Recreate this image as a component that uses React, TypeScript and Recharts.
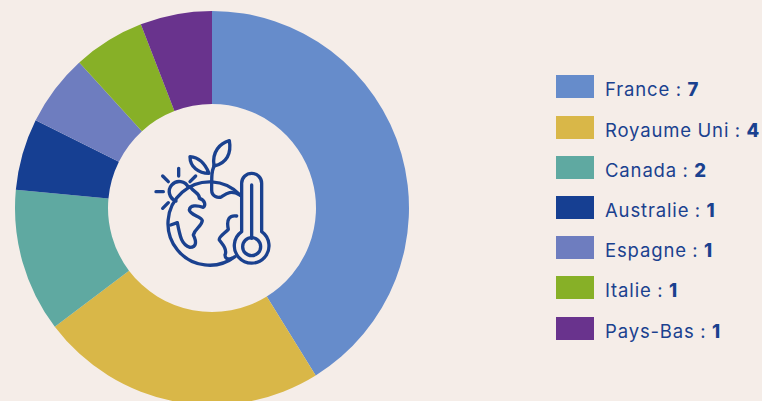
import React from 'react';
import { PieChart, Pie, Cell, Legend } from 'recharts';

const countries = ['France', 'Royaume Uni', 'Canada', 'Australie', 'Espagne', 'Italie', 'Pays-Bas'];
const counts = [7, 4, 2, 1, 1, 1, 1];
const colors = ['#668ccb', '#d9b748', '#5fa9a1', '#163f92', '#6e7dbf', '#87b027', '#69338d'];
const data = countries.map((name, i) => ({ name, value: counts[i] }));

const INK = '#1a418f';
const legendRows = [75, 116, 156, 196, 236, 276, 317];

const LegendBox = () => (
  <div style={{ position: 'relative', width: 762, height: 401 }}>
    {data.map((d, i) => (
      <div key={d.name}>
        <div style={{ position: 'absolute', left: 556, top: legendRows[i], width: 38, height: 23, background: colors[i] }} />
        <div style={{ position: 'absolute', left: 605, top: legendRows[i] + 1, lineHeight: '26px', fontFamily: 'Inter, sans-serif', fontSize: 18.5, letterSpacing: 0.85, wordSpacing: -0.5, color: INK, whiteSpace: 'nowrap' }}>
          {d.name} : <span style={{ fontWeight: 800 }}>{d.value}</span>
        </div>
      </div>
    ))}
  </div>
);

const Icon = () => (
  <g transform="translate(140,130) scale(0.3333)" fill="none" stroke={INK} strokeWidth={10} strokeLinecap="round" strokeLinejoin="round">
    <path d="M300 195 A125 125 0 1 0 285 380" />
    <path d="M108 213 A30 30 0 1 1 145 172" />
    <path d="M48 185 H70 M68 235 L85 218 M68 138 L85 155 M116 115 V138 M150 155 L167 138" />
    <path d="M305 305 V160 A30 30 0 0 1 365 160 V305 A52 52 0 1 1 305 305 Z" />
    <path d="M335 165 V325" />
    <circle cx={335} cy={350} r={27} />
    <path d="M222 108 C215 65 240 40 268 32 C275 70 260 100 222 108 Z" />
    <path d="M207 130 C195 100 175 82 150 80 C150 110 175 130 207 130 Z" />
    <path d="M222 108 C215 125 215 135 215 180 C215 200 235 205 245 200 C260 190 272 180 300 195" />
    <path d="M150 170 C165 190 180 190 178 205 C195 210 198 225 190 232 C170 225 150 225 148 240 C150 255 185 260 187 272 C185 290 165 295 160 315 C170 335 170 352 150 352 C125 345 120 320 112 278 L92 285" />
    <path d="M290 258 C270 255 258 265 265 298 C255 310 235 320 238 330 C250 345 262 360 255 375 C255 385 262 390 275 385" />
  </g>
);

export default function App() {
  return (
    <div style={{ position: 'absolute', left: 0, top: 0, width: 762, height: 401, overflow: 'hidden', background: '#f5ede8' }}>
      <PieChart width={762} height={401} margin={{ top: 0, right: 0, bottom: 0, left: 0 }}>
        <Pie
          data={data}
          dataKey="value"
          nameKey="name"
          cx={212}
          cy={208}
          innerRadius={104}
          outerRadius={197}
          startAngle={90}
          endAngle={-270}
          stroke="none"
          isAnimationActive={false}
        >
          {data.map((d, i) => (
            <Cell key={d.name} fill={colors[i]} />
          ))}
        </Pie>
        <Legend content={<LegendBox />} wrapperStyle={{ position: 'absolute', left: 0, top: 0, width: 762, height: 401, bottom: 'auto' }} />
        <Icon />
      </PieChart>
    </div>
  );
}
